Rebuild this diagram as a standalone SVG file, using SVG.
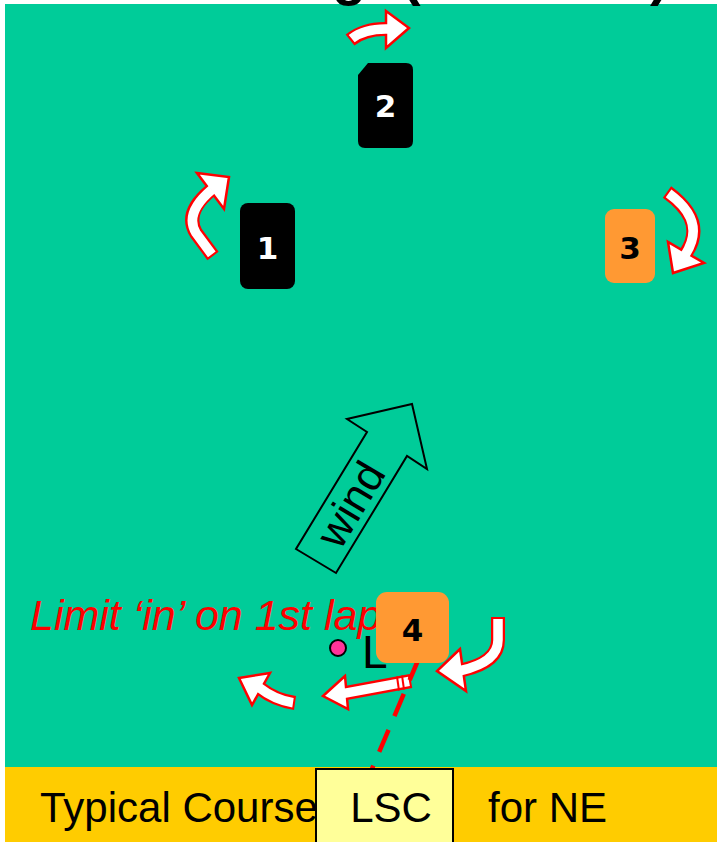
<svg xmlns="http://www.w3.org/2000/svg" width="717" height="842" viewBox="0 0 717 842">
<style>
.ao{fill:none;stroke:#FF0000;stroke-width:14;stroke-linecap:butt;stroke-linejoin:round}
.ai{fill:none;stroke:#FFFFFF;stroke-width:9.5;stroke-linecap:butt;stroke-linejoin:round}
.ah{fill:#FFFFFF;stroke:#FF0000;stroke-width:2.5;stroke-linejoin:miter}
.num{font-family:"DejaVu Sans",sans-serif;font-weight:bold;font-size:31px;text-anchor:middle}
.lbl{font-family:"Liberation Sans",Arial,sans-serif;font-size:42px}
</style>
<rect x="0" y="0" width="717" height="842" fill="#FFFFFF"/>
<rect x="5" y="4" width="712" height="763" fill="#00CC99"/>
<rect x="5" y="767" width="712" height="75" fill="#FFCC00"/>
<g id="title-fragment" font-family="Liberation Sans, Arial, sans-serif" font-weight="bold" font-size="56" fill="#000000">
<text x="332" y="-6">g</text>
<text x="402" y="-6">(</text>
<text x="650" y="-6">)</text>
</g>
<g id="connectors">
<g id="arrow-2">
<path class="ao" d="M350,40 Q365,28 388,29"/>
<polygon class="ah" points="386,11 409,28 386,48"/>
<path class="ai" d="M351.7,38.6 Q365,28 390,29"/>
</g>
<g id="arrow-1">
<path class="ao" d="M213,256 L196,233 Q184,213 210,191"/>
<polygon class="ah" points="197,173 229,177 224,209"/>
<path class="ai" d="M211.8,254.4 L196,233 Q184,213 212,189.5"/>
</g>
<g id="arrow-3">
<path class="ao" d="M667,192 C686,206 704,226 686,253"/>
<polygon class="ah" points="668,242 673,273 704,263"/>
<path class="ai" d="M668.6,193.3 C686,206 704,226 685,255"/>
</g>
<g id="arrow-4a">
<path class="ao" d="M498,617 L498,640 Q498,662 463,670"/>
<polygon class="ah" points="460,649 437,671 466,691"/>
<path class="ai" d="M498,619 L498,640 Q498,662 461,670.5"/>
</g>
<g id="arrow-4b">
<path class="ao" d="M411,681 L346,693" style="stroke-width:14"/>
<polygon class="ah" points="345,676 323,696 348,709"/>
<path class="ai" d="M409,681.4 L344,693.4" style="stroke-width:9.5"/>
<line x1="397" y1="676.5" x2="399" y2="690.5" stroke="#FF0000" stroke-width="2"/>
<line x1="402" y1="675.5" x2="404" y2="689.5" stroke="#FF0000" stroke-width="2"/>
</g>
<g id="arrow-4c">
<path class="ao" d="M295,703 Q275,700 261,689"/>
<polygon class="ah" points="270,673 239,678 252,705"/>
<path class="ai" d="M293,702.7 Q275,700 259,687.5"/>
</g>
<line id="start-line" x1="419" y1="658" x2="369" y2="776" stroke="#FF0000" stroke-width="4.5" stroke-dasharray="24 15"/>
</g>
<g id="wind">
<polygon points="296,549 336,573 407,456 427,469 412,404 347,419 367,432" fill="none" stroke="#000000" stroke-width="2"/>
<text x="350" y="504" dy="0.36em" transform="rotate(-59 350 504)" font-family="Liberation Sans, Arial, sans-serif" font-size="44" text-anchor="middle" fill="#000000">wind</text>
</g>
<g id="mark-2">
<path d="M368,63 L406,63 Q413,63 413,70 L413,141 Q413,148 406,148 L365,148 Q358,148 358,141 L358,75 Z" fill="#000000"/>
<text class="num" x="385.5" y="117" fill="#FFFFFF">2</text>
</g>
<g id="mark-1">
<rect x="240" y="203" width="55" height="86" rx="8" fill="#000000"/>
<text class="num" x="267.5" y="259" fill="#FFFFFF">1</text>
</g>
<g id="mark-3">
<rect x="605" y="209" width="50" height="74" rx="9" fill="#FF9933"/>
<text class="num" x="630" y="259" fill="#000000">3</text>
</g>
<text id="limit" x="30" y="630" font-family="Liberation Sans, Arial, sans-serif" font-style="italic" font-size="43" fill="#FF0000">Limit ‘in’ on 1st lap</text>
<g id="mark-4">
<rect x="376" y="592" width="73" height="71" rx="11" fill="#FF9933"/>
<text class="num" x="412.5" y="641" fill="#000000">4</text>
</g>
<g id="pin-end">
<circle cx="338" cy="648" r="8" fill="#FF3399" stroke="#000000" stroke-width="2"/>
<text x="362" y="668" font-family="Liberation Sans, Arial, sans-serif" font-size="46" fill="#000000">L</text>
</g>
<g id="footer">
<text class="lbl" x="40" y="822" fill="#000000">Typical Course</text>
<rect x="316" y="769" width="137" height="80" fill="#FFFF99" stroke="#000000" stroke-width="2"/>
<text class="lbl" x="391" y="822" text-anchor="middle" fill="#000000">LSC</text>
<text class="lbl" x="488" y="822" fill="#000000">for NE</text>
</g>
</svg>
